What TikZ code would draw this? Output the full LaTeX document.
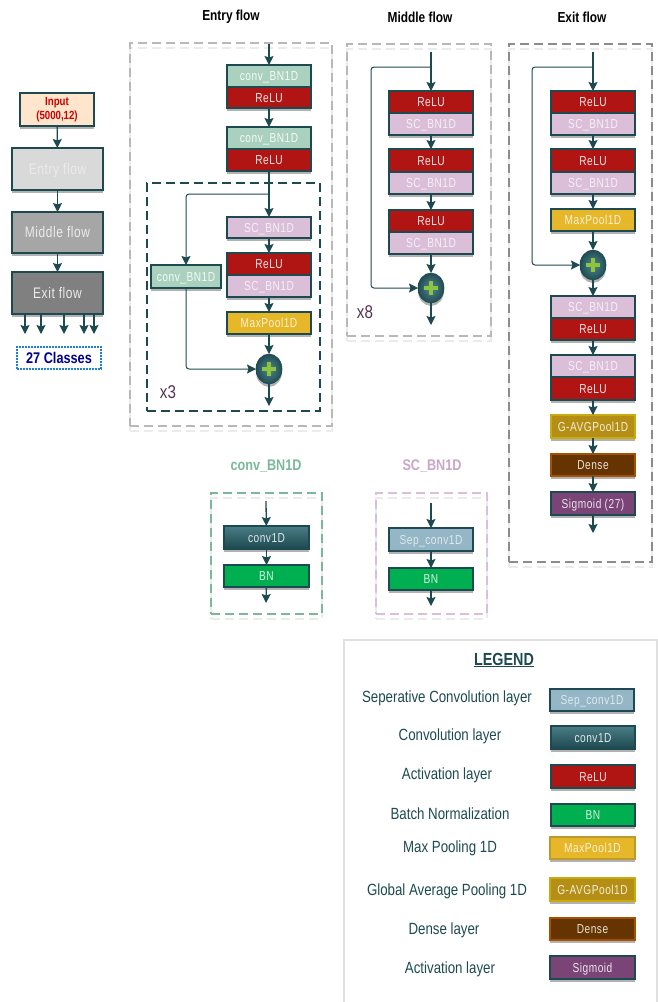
\documentclass[tikz,border=0pt]{standalone}
\usepackage{fontspec}
\setmainfont[FakeStretch=.82]{Liberation Sans}
\newfontfamily\boxfont[FakeStretch=.78,LetterSpace=4]{Liberation Sans}
\usetikzlibrary{arrows.meta,shadows,shapes.geometric,calc}
\definecolor{ink}{HTML}{1D4A50}
\definecolor{cgreen}{HTML}{A9D1BE}
\definecolor{cred}{HTML}{B01513}
\definecolor{cpink}{HTML}{DBBFD9}
\definecolor{cyel}{HTML}{E6B729}
\definecolor{cgold}{HTML}{B58F15}
\definecolor{cbrown}{HTML}{653400}
\definecolor{cpurp}{HTML}{7A4477}
\definecolor{cteal}{HTML}{2A6670}
\definecolor{csep}{HTML}{94B6C6}
\definecolor{cbn}{HTML}{00B050}
\definecolor{titleg}{HTML}{7AB89A}
\definecolor{titlep}{HTML}{C9A5C9}
\definecolor{plusg}{HTML}{8CC63F}
\definecolor{clsblue}{HTML}{1F7FD0}
\tikzset{
  x=1pt,y=-1pt,
  shad/.style={drop shadow={shadow xshift=0pt,shadow yshift=-3pt,opacity=.3,fill=black}},
  base/.style={draw=ink,line width=1.25pt,inner sep=0pt,outer sep=0pt,font=\boxfont\fontsize{13}{14}\selectfont,align=center,shad,text height=10.5pt,text depth=1.5pt},
  gr/.style={base,fill=cgreen,text=white!90!cgreen},
  rd/.style={base,fill=cred,text=white!88!cred},
  pk/.style={base,fill=cpink,text=white!75!cpink},
  yl/.style={base,fill=cyel,draw=ink,text=white!82!cyel},
  yl2/.style={base,fill=cyel,draw=cgold!90!white,text=white!82!cyel},
  gd/.style={base,fill=cgold,draw=cgold!75!yellow,text=white!85!cgold},
  br/.style={base,fill=cbrown,draw=cbrown!60!orange,text=white!85!cbrown},
  pu/.style={base,fill=cpurp,text=white!85!cpurp},
  tl/.style={base,top color=cteal!85!white,bottom color=cteal!70!black,text=white!85!cteal},
  sp/.style={base,fill=csep,text=white!70!csep},
  bn/.style={base,fill=cbn,text=white!85!cbn},
  flowbox/.style={base,font=\boxfont\fontsize{15.3}{17}\selectfont,text height=11.5pt,text depth=1.5pt},
  conn/.style={draw=ink,line width=1.3pt,-{Stealth[length=9pt,width=9pt,inset=1.5pt]}},
  skip/.style={conn,rounded corners=3pt,line width=1pt},
  plusnode/.style={ellipse,draw=ink,line width=.6pt,minimum width=26pt,minimum height=30pt,inner sep=0pt,outer sep=0pt,
    inner color=cteal!80!white,outer color=cteal!75!black,shad,
    path picture={
      \fill[plusg] ([xshift=-7pt,yshift=-2.3pt]path picture bounding box.center) rectangle ([xshift=7pt,yshift=2.3pt]path picture bounding box.center);
      \fill[plusg] ([xshift=-2.3pt,yshift=-7pt]path picture bounding box.center) rectangle ([xshift=2.3pt,yshift=7pt]path picture bounding box.center);
    }},
  frame/.style={inner sep=0pt,outer sep=0pt,line width=1.2pt,dash pattern=on 9pt off 5pt},
  lightframe/.style={frame,draw=black!28,preaction={draw=black!8,transform canvas={yshift=-5pt}}},
  title/.style={font=\bfseries\fontsize{14.5}{16}\selectfont,inner sep=0pt},
  subtitle/.style={font=\bfseries\fontsize{15.4}{17}\selectfont,inner sep=0pt},
  leglab/.style={font=\fontsize{16.2}{18}\selectfont,text=ink,inner sep=0pt},
  mult/.style={font=\fontsize{18.5}{20}\selectfont,text=cpurp!70!black,inner sep=0pt},
}
\newcommand\bx[7][]{%
  \pgfmathsetmacro\bw{#5-#3}\pgfmathsetmacro\bh{#6-#4}%
  \pgfmathsetmacro\bcx{(#3+#5)/2}\pgfmathsetmacro\bcy{(#4+#6)/2}%
  \node[#1,minimum width=\bw pt,minimum height=\bh pt] (#2) at (\bcx,\bcy) {#7};}
\begin{document}
\begin{tikzpicture}
\useasboundingbox (0,0) rectangle (657,1002);
% frames
\bx[lightframe]{fE}{130}{43}{332}{426}{}
\bx[lightframe]{fM}{347}{44}{491}{336}{}
\bx[frame,draw=black!45,preaction={draw=black!8,transform canvas={yshift=-5pt}}]{fX}{509}{44}{652}{562}{}
\bx[frame,draw=ink]{fI}{147}{183}{320}{411}{}
\bx[frame,draw=titleg,preaction={draw=black!8,transform canvas={yshift=-5pt}}]{fC}{211}{493}{322}{614}{}
\bx[frame,draw=cpink,preaction={draw=black!8,transform canvas={yshift=-5pt}}]{fS}{376}{493}{487}{614}{}
% titles
\node[title] (tE) at (231,17) {Entry flow};
\node[title] (tM) at (420,17) {Middle flow};
\node[title] (tX) at (582,17) {Exit flow};
\node[subtitle,text=titleg] (tC) at (266,466) {conv\_BN1D};
\node[subtitle,text=titlep] (tS) at (432,466) {SC\_BN1D};
% left overview
\bx[base,fill=orange!20!white,text=red!80!black,font=\bfseries\fontsize{11.8}{14}\selectfont,text height=,text depth=]{inp}{20}{93}{94}{126}{Input\\(5000,12)}
\bx[flowbox,fill=black!15,text=white!92!black]{ovE}{12}{148}{103}{190}{Entry flow}
\bx[flowbox,fill=black!35,text=white!92!black]{ovM}{12}{212}{103}{253}{Middle flow}
\bx[flowbox,fill=black!50,text=white!92!black]{ovX}{12}{272}{103}{314}{Exit flow}
\draw[conn] (inp) -- (ovE);
\draw[conn] (ovE) -- (ovM);
\draw[conn] (ovM) -- (ovX);
\coordinate (o1) at (25,334);\coordinate (o2) at (41,334);\coordinate (o3) at (64,334);\coordinate (o4) at (84,334);\coordinate (o5) at (94,334);
\foreach \k in {1,...,5}{\draw[conn] (ovX.south -| o\k) -- (o\k);}
\bx[draw=clsblue,line width=1.2pt,dash pattern=on 1.6pt off 1.4pt,inner sep=0pt,font=\bfseries\fontsize{15.5}{17}\selectfont,text={blue!55!black}]{cls}{17}{347}{101}{369}{27 Classes}
% entry flow
\coordinate (eIn) at (269,44);
\bx[gr]{e1}{227}{65}{311}{87}{conv\_BN1D}
\bx[rd]{e2}{227}{87}{311}{108}{ReLU}
\bx[gr]{e3}{227}{127}{311}{149}{conv\_BN1D}
\bx[rd]{e4}{227}{149}{311}{171}{ReLU}
\bx[pk]{e5}{227}{217}{311}{238}{SC\_BN1D}
\bx[rd]{e6}{227}{253}{311}{275}{ReLU}
\bx[pk]{e7}{227}{275}{311}{297}{SC\_BN1D}
\bx[yl]{e8}{227}{312}{311}{334}{MaxPool1D}
\bx[gr]{eSk}{151}{265}{221}{288}{conv\_BN1D}
\node[plusnode] (eP) at (269,369) {};
\coordinate (eOut) at (269,406);
\coordinate (eJ) at (269,194);
\draw[conn] (eIn) -- (e1);
\draw[conn] (e2) -- (e3);
\draw[conn] (e4) -- (e5);
\draw[conn] (e5) -- (e6);
\draw[conn] (e7) -- (e8);
\draw[conn] (e8) -- (eP);
\draw[conn] (eP) -- (eOut);
\draw[skip] (eJ) -| (eSk.north);
\draw[skip] (eSk.south) |- (eP.west);
\node[mult] (x3) at (168,392) {x3};
% middle flow
\coordinate (mIn) at (431,52);
\bx[rd]{m1}{389}{91}{473}{113}{ReLU}
\bx[pk]{m2}{389}{113}{473}{135}{SC\_BN1D}
\bx[rd]{m3}{389}{149}{473}{172}{ReLU}
\bx[pk]{m4}{389}{172}{473}{194}{SC\_BN1D}
\bx[rd]{m5}{389}{210}{473}{232}{ReLU}
\bx[pk]{m6}{389}{232}{473}{254}{SC\_BN1D}
\node[plusnode] (mP) at (431,288) {};
\coordinate (mOut) at (431,325);
\coordinate (mJ) at (431,67);
\coordinate (mL) at (371,67);
\draw[conn] (mIn) -- (m1);
\draw[conn] (m2) -- (m3);
\draw[conn] (m4) -- (m5);
\draw[conn] (m6) -- (mP);
\draw[conn] (mP) -- (mOut);
\draw[skip] (mJ) -- (mL) |- (mP.west);
\node[mult] (x8) at (365,312) {x8};
% exit flow
\coordinate (xIn) at (593,52);
\bx[rd]{x1}{551}{91}{635}{113}{ReLU}
\bx[pk]{x2}{551}{113}{635}{135}{SC\_BN1D}
\bx[rd]{x3b}{551}{149}{635}{172}{ReLU}
\bx[pk]{x4}{551}{172}{635}{194}{SC\_BN1D}
\bx[yl]{x5}{551}{209}{635}{231}{MaxPool1D}
\node[plusnode] (xP) at (593,265) {};
\bx[pk]{x6}{551}{296}{635}{318}{SC\_BN1D}
\bx[rd]{x7}{551}{318}{635}{340}{ReLU}
\bx[pk]{x8b}{551}{355}{635}{377}{SC\_BN1D}
\bx[rd]{x9}{551}{377}{635}{400}{ReLU}
\bx[gd]{x10}{551}{415}{635}{438}{G-AVGPool1D}
\bx[br]{x11}{551}{454}{635}{476}{Dense}
\bx[pu]{x12}{551}{492}{635}{515}{Sigmoid (27)}
\coordinate (xOut) at (593,533);
\coordinate (xJ) at (593,67);
\coordinate (xL) at (532,67);
\draw[conn] (xIn) -- (x1);
\draw[conn] (x2) -- (x3b);
\draw[conn] (x4) -- (x5);
\draw[conn] (x5) -- (xP);
\draw[conn] (xP) -- (x6);
\draw[conn] (x7) -- (x8b);
\draw[conn] (x9) -- (x10);
\draw[conn] (x10) -- (x11);
\draw[conn] (x11) -- (x12);
\draw[conn] (x12) -- (xOut);
\draw[skip] (xJ) -- (xL) |- (xP.west);
% conv_BN1D detail
\coordinate (cIn) at (266,501);
\bx[tl]{c1}{224}{526}{309}{549}{conv1D}
\bx[bn]{c2}{224}{565}{309}{587}{BN}
\coordinate (cOut) at (266,603);
\draw[conn] (cIn) -- (c1);
\draw[conn] (c1) -- (c2);
\draw[conn] (c2) -- (cOut);
% SC_BN1D detail
\coordinate (sIn) at (431,503);
\bx[sp]{s1}{389}{528}{473}{551}{Sep\_conv1D}
\bx[bn]{s2}{389}{568}{473}{590}{BN}
\coordinate (sOut) at (431,606);
\draw[conn] (sIn) -- (s1);
\draw[conn] (s1) -- (s2);
\draw[conn] (s2) -- (sOut);
% legend
\bx[draw=black!12,line width=1.2pt,inner sep=0pt]{leg}{344}{640}{657}{1003}{}
\node[font=\bfseries\fontsize{17.5}{19}\selectfont,text=ink,inner sep=0pt] (legT) at (504,660) {\underline{LEGEND}};
\node[leglab] (l1) at (447,698.5) {Seperative Convolution layer};
\node[leglab] (l2) at (450,736.5) {Convolution layer};
\node[leglab] (l3) at (447,775.5) {Activation layer};
\node[leglab] (l4) at (450,813.5) {Batch Normalization};
\node[leglab] (l5) at (450,848.5) {Max Pooling 1D};
\node[leglab] (l6) at (447,891.5) {Global Average Pooling 1D};
\node[leglab] (l7) at (444,930.5) {Dense layer};
\node[leglab] (l8) at (450,969.5) {Activation layer};
\bx[sp]{k1}{550}{689}{634}{711}{Sep\_conv1D}
\bx[tl]{k2}{551}{726}{635}{749}{conv1D}
\bx[rd]{k3}{551}{765}{635}{788}{ReLU}
\bx[bn]{k4}{551}{804}{635}{826}{BN}
\bx[yl2]{k5}{550}{837}{635}{859}{MaxPool1D}
\bx[gd]{k6}{550}{878}{635}{901}{G-AVGPool1D}
\bx[br]{k7}{550}{918}{635}{940}{Dense}
\bx[pu]{k8}{550}{956}{635}{979}{Sigmoid}
\end{tikzpicture}
\end{document}
